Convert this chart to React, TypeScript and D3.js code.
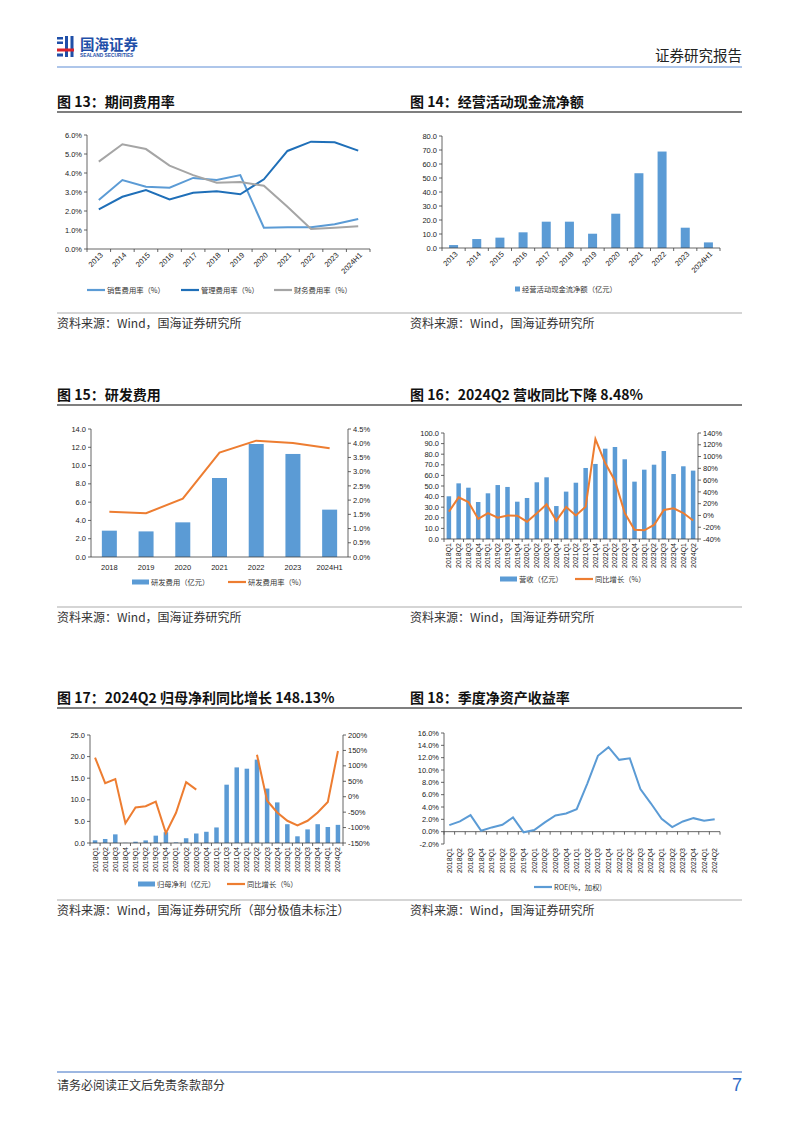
import React from 'react';
import * as d3 from 'd3';

// ---------- DATA ----------
const years13 = ['2013', '2014', '2015', '2016', '2017', '2018', '2019', '2020', '2021', '2022', '2023', '2024H1'];
const salesRate13 = [2.58, 3.63, 3.28, 3.23, 3.74, 3.63, 3.89, 1.12, 1.15, 1.15, 1.3, 1.58];
const adminRate13 = [2.09, 2.75, 3.1, 2.61, 2.96, 3.04, 2.88, 3.67, 5.16, 5.65, 5.62, 5.18];
const finRate13 = [4.6, 5.51, 5.26, 4.39, 3.89, 3.49, 3.53, 3.33, 2.22, 1.05, 1.12, 1.2];
const ticks13 = [0, 1, 2, 3, 4, 5, 6];

const cashFlow14 = [2.1, 6.4, 7.4, 11.2, 18.8, 18.8, 10.2, 24.5, 53.4, 68.9, 14.5, 4.0];
const ticks14 = [0, 10, 20, 30, 40, 50, 60, 70, 80];

const years15 = ['2018', '2019', '2020', '2021', '2022', '2023', '2024H1'];
const rdExpense15 = [2.88, 2.8, 3.79, 8.64, 12.36, 11.27, 5.18];
const rdRate15 = [1.59, 1.54, 2.05, 3.67, 4.09, 4.01, 3.82];
const ticks15L = [0, 2, 4, 6, 8, 10, 12, 14];
const ticks15R = [0, 0.5, 1, 1.5, 2, 2.5, 3, 3.5, 4, 4.5];

const quarters16 = ['2018Q1', '2018Q2', '2018Q3', '2018Q4', '2019Q1', '2019Q2', '2019Q3', '2019Q4', '2020Q1', '2020Q2', '2020Q3', '2020Q4', '2021Q1', '2021Q2', '2021Q3', '2021Q4', '2022Q1', '2022Q2', '2022Q3', '2022Q4', '2023Q1', '2023Q2', '2023Q3', '2023Q4', '2024Q1', '2024Q2'];
const revenue16 = [40.3, 52.5, 48.4, 34.9, 43.1, 50.9, 49.1, 35.2, 38.7, 53.5, 58.2, 31.1, 44.7, 53.1, 67.0, 70.8, 85.2, 86.8, 75.2, 54.1, 65.4, 70.1, 83.0, 61.3, 68.6, 64.5];
const revYoy16 = [6.4, 30.7, 22.8, -6, 4.1, -3.8, 0, -0.4, -10.6, 3.6, 18.8, -8.9, 14.3, 0, 14.9, 129.7, 89, 59, 4.1, -24.2, -25.3, -16.2, 9.2, 12.1, 4.1, -8.48];
const ticks16L = [0, 10, 20, 30, 40, 50, 60, 70, 80, 90, 100];
const ticks16R = [-40, -20, 0, 20, 40, 60, 80, 100, 120, 140];

const quarters17 = ['2018Q1', '2018Q2', '2018Q3', '2018Q4', '2019Q1', '2019Q2', '2019Q3', '2019Q4', '2020Q1', '2020Q2', '2020Q3', '2020Q4', '2021Q1', '2021Q3', '2021Q4', '2022Q1', '2022Q2', '2022Q3', '2022Q4', '2023Q1', '2023Q2', '2023Q3', '2023Q4', '2024Q1', '2024Q2'];
const profit17 = [0.62, 0.93, 2.0, 0.05, 0.3, 0.6, 1.7, 2.5, 0.15, 1.1, 2.2, 2.6, 3.6, 13.5, 17.5, 17.2, 19.3, 12.6, 9.4, 4.35, 1.55, 3.15, 4.35, 3.7, 4.2];
const profitYoy17: (number | null)[] = [127, 44, 57, -86, -35, -31, -16, -118, -52, 47, 23, null, null, null, null, null, 136, -13, -51, -78, -93, -78, -51, -17, 148.13];
const ticks17L = [0, 5, 10, 15, 20, 25];
const ticks17R = [-150, -100, -50, 0, 50, 100, 150, 200];

const roe18 = [1.06, 1.66, 2.68, 0.15, 0.69, 1.12, 2.3, -0.1, 0.26, 1.5, 2.63, 2.95, 3.64, 7.8, 12.3, 13.7, 11.65, 11.9, 6.9, 4.56, 2.08, 0.74, 1.66, 2.19, 1.76, 2.03];
const ticks18 = [-2, 0, 2, 4, 6, 8, 10, 12, 14, 16];

// ---------- STYLE ----------
const FONT = "'Liberation Sans', 'Noto Sans CJK SC', sans-serif";
const CJK = "'Noto Sans CJK SC', sans-serif";
const AX = '#404040';
const BLUE = '#5b9bd5';
const DBLUE = '#1f6fb8';
const GREY = '#a5a5a5';
const ORANGE = '#ed7d31';
const TICK_FS = 7.5;
const LEG_FS = 7.3;

function YAxis({ scale, ticks, x, side, fmt }: any) {
  const dir = side === 'left' ? -1 : 1;
  const [r0, r1] = scale.range();
  return (
    <g>
      <line x1={x} x2={x} y1={r0} y2={r1} stroke={AX} strokeWidth={0.8} />
      {ticks.map((t: number) => (
        <g key={t}>
          <line x1={x} x2={x + dir * 3} y1={scale(t)} y2={scale(t)} stroke={AX} strokeWidth={0.8} />
          <text x={x + dir * 5} y={scale(t)} dy="0.35em" fontSize={TICK_FS} fontFamily={FONT} fill="#222"
            textAnchor={side === 'left' ? 'end' : 'start'}>{fmt(t)}</text>
        </g>
      ))}
    </g>
  );
}

function XAxisLine({ band, y, ticks = true }: any) {
  const [a, b] = band.range();
  const bounds = band.domain().map((d: string) => band(d)).concat([b]);
  return (
    <g>
      <line x1={a} x2={b} y1={y} y2={y} stroke={AX} strokeWidth={0.8} />
      {ticks && bounds.map((bx: number, i: number) => (
        <line key={i} x1={bx} x2={bx} y1={y} y2={y + 3} stroke={AX} strokeWidth={0.8} />
      ))}
    </g>
  );
}

function RotLabels({ band, y, angle, fs = TICK_FS }: any) {
  return (
    <g>
      {band.domain().map((d: string) => {
        const cx = band(d) + band.bandwidth() / 2;
        const dx = angle === -45 ? 3 : 0;
        return (
          <text key={d} transform={`translate(${cx + dx},${y}) rotate(${angle})`} textAnchor="end"
            dy={angle === -90 ? '0.35em' : '0.3em'} fontSize={fs} fontFamily={FONT} fill="#222">{d}</text>
        );
      })}
    </g>
  );
}

function LegLine({ x, y, color, label, w = 18 }: any) {
  return (
    <g>
      <line x1={x} x2={x + w} y1={y} y2={y} stroke={color} strokeWidth={2.2} />
      <text x={x + w + 2} y={y} dy="0.35em" fontSize={LEG_FS} fontFamily={CJK} fill="#333">{label}</text>
    </g>
  );
}

function LegBar({ x, y, color, label, w = 17, h = 5 }: any) {
  return (
    <g>
      <rect x={x} y={y - h / 2} width={w} height={h} fill={color} />
      <text x={x + w + 2} y={y} dy="0.35em" fontSize={LEG_FS} fontFamily={CJK} fill="#333">{label}</text>
    </g>
  );
}

function Title({ x, y, text }: any) {
  return <text x={x} y={y} fontSize={14} fontWeight="bold" fontFamily={CJK} fill="#111">{text}</text>;
}

function Source({ x, y, text }: any) {
  return <text x={x} y={y} fontSize={12} fontFamily={CJK} fill="#333">{text}</text>;
}

// ---------- CHARTS ----------
function Chart13() {
  const x = d3.scaleBand().domain(years13).range([87, 370]);
  const y = d3.scaleLinear().domain([0, 6]).range([249, 135]);
  const cx = (i: number) => (x(years13[i]) as number) + x.bandwidth() / 2;
  const line = d3.line<number>().x((_, i) => cx(i)).y((d) => y(d));
  return (
    <g>
      <YAxis scale={y} ticks={ticks13} x={87} side="left" fmt={(t: number) => t.toFixed(1) + '%'} />
      <XAxisLine band={x} y={249} />
      <path d={line(salesRate13) as string} fill="none" stroke={BLUE} strokeWidth={2} />
      <path d={line(adminRate13) as string} fill="none" stroke={DBLUE} strokeWidth={2} />
      <path d={line(finRate13) as string} fill="none" stroke={GREY} strokeWidth={2} />
      <RotLabels band={x} y={254} angle={-45} />
      <LegLine x={87} y={290} color={BLUE} label="销售费用率（%）" />
      <LegLine x={181} y={290} color={DBLUE} label="管理费用率（%）" />
      <LegLine x={274} y={290} color={GREY} label="财务费用率（%）" />
    </g>
  );
}

function Chart14() {
  const x = d3.scaleBand().domain(years13).range([442, 720]);
  const y = d3.scaleLinear().domain([0, 80]).range([248, 136]);
  const bw = 9;
  return (
    <g>
      {cashFlow14.map((v, i) => {
        const c = (x(years13[i]) as number) + x.bandwidth() / 2;
        return <rect key={i} x={c - bw / 2} y={y(v)} width={bw} height={y(0) - y(v)} fill={BLUE} />;
      })}
      <YAxis scale={y} ticks={ticks14} x={442} side="left" fmt={(t: number) => t.toFixed(1)} />
      <XAxisLine band={x} y={248} />
      <RotLabels band={x} y={253} angle={-45} />
      <rect x={515} y={286.5} width={5} height={5} fill={BLUE} />
      <text x={522} y={289} dy="0.35em" fontSize={LEG_FS} fontFamily={CJK} fill="#333">经营活动现金流净额（亿元）</text>
    </g>
  );
}

function Chart15() {
  const x = d3.scaleBand().domain(years15).range([91, 348]);
  const yL = d3.scaleLinear().domain([0, 14]).range([557, 429]);
  const yR = d3.scaleLinear().domain([0, 4.5]).range([557, 429]);
  const cx = (i: number) => (x(years15[i]) as number) + x.bandwidth() / 2;
  const line = d3.line<number>().x((_, i) => cx(i)).y((d) => yR(d));
  const bw = 15;
  return (
    <g>
      {rdExpense15.map((v, i) => (
        <rect key={i} x={cx(i) - bw / 2} y={yL(v)} width={bw} height={yL(0) - yL(v)} fill={BLUE} />
      ))}
      <path d={line(rdRate15) as string} fill="none" stroke={ORANGE} strokeWidth={2} />
      <YAxis scale={yL} ticks={ticks15L} x={91} side="left" fmt={(t: number) => t.toFixed(1)} />
      <YAxis scale={yR} ticks={ticks15R} x={348} side="right" fmt={(t: number) => t.toFixed(1) + '%'} />
      <line x1={91} x2={348} y1={557} y2={557} stroke={AX} strokeWidth={0.8} />
      {years15.map((d, i) => (
        <text key={d} x={cx(i)} y={567} dy="0.35em" textAnchor="middle" fontSize={TICK_FS} fontFamily={FONT} fill="#222">{d}</text>
      ))}
      <LegBar x={132} y={582} color={BLUE} label="研发费用（亿元）" />
      <LegLine x={228} y={582} color={ORANGE} label="研发费用率（%）" />
    </g>
  );
}

function Chart16() {
  const x = d3.scaleBand().domain(quarters16).range([444, 698]);
  const yL = d3.scaleLinear().domain([0, 100]).range([539, 433]);
  const yR = d3.scaleLinear().domain([-40, 140]).range([539, 433]);
  const cx = (i: number) => (x(quarters16[i]) as number) + x.bandwidth() / 2;
  const line = d3.line<number>().x((_, i) => cx(i)).y((d) => yR(d));
  const bw = 4.5;
  return (
    <g>
      {revenue16.map((v, i) => (
        <rect key={i} x={cx(i) - bw / 2} y={yL(v)} width={bw} height={yL(0) - yL(v)} fill={BLUE} />
      ))}
      <path d={line(revYoy16) as string} fill="none" stroke={ORANGE} strokeWidth={2} />
      <YAxis scale={yL} ticks={ticks16L} x={444} side="left" fmt={(t: number) => t.toFixed(1)} />
      <YAxis scale={yR} ticks={ticks16R} x={698} side="right" fmt={(t: number) => t + '%'} />
      <XAxisLine band={x} y={539} />
      <RotLabels band={x} y={543} angle={-90} fs={7} />
      <LegBar x={500} y={579} color={BLUE} label="营收（亿元）" />
      <LegLine x={575} y={579} color={ORANGE} label="同比增长（%）" />
    </g>
  );
}

function Chart17() {
  const x = d3.scaleBand().domain(quarters17).range([90, 343]);
  const yL = d3.scaleLinear().domain([0, 25]).range([843, 735]);
  const yR = d3.scaleLinear().domain([-150, 200]).range([843, 735]);
  const cx = (i: number) => (x(quarters17[i]) as number) + x.bandwidth() / 2;
  const line = d3.line<number | null>().defined((d) => d != null).x((_, i) => cx(i)).y((d) => yR(d as number));
  const bw = 4.5;
  return (
    <g>
      {profit17.map((v, i) => (
        <rect key={i} x={cx(i) - bw / 2} y={yL(v)} width={bw} height={yL(0) - yL(v)} fill={BLUE} />
      ))}
      <path d={line(profitYoy17) as string} fill="none" stroke={ORANGE} strokeWidth={2} />
      <YAxis scale={yL} ticks={ticks17L} x={90} side="left" fmt={(t: number) => t.toFixed(1)} />
      <YAxis scale={yR} ticks={ticks17R} x={343} side="right" fmt={(t: number) => t + '%'} />
      <XAxisLine band={x} y={843} />
      <RotLabels band={x} y={847} angle={-90} fs={7} />
      <LegBar x={138} y={884} color={BLUE} label="归母净利（亿元）" />
      <LegLine x={227} y={884} color={ORANGE} label="同比增长（%）" />
    </g>
  );
}

function Chart18() {
  const x = d3.scaleBand().domain(quarters16).range([444, 720]);
  const y = d3.scaleLinear().domain([-2, 16]).range([844, 733]);
  const cx = (i: number) => (x(quarters16[i]) as number) + x.bandwidth() / 2;
  const line = d3.line<number>().x((_, i) => cx(i)).y((d) => y(d));
  return (
    <g>
      <YAxis scale={y} ticks={ticks18} x={444} side="left" fmt={(t: number) => t.toFixed(1) + '%'} />
      <XAxisLine band={x} y={y(0)} />
      <path d={line(roe18) as string} fill="none" stroke={BLUE} strokeWidth={2} />
      <RotLabels band={x} y={848} angle={-90} fs={7} />
      <LegLine x={534} y={887} color={BLUE} label="ROE(%，加权)" />
    </g>
  );
}

export default function App() {
  return (
    <svg width={802} height={1133} viewBox="0 0 802 1133"
      style={{ position: 'absolute', left: 0, top: 0, background: '#fff' }}>
      <rect x={0} y={0} width={802} height={1133} fill="#fff" />
      {/* header */}
      <g>
        <rect x={57} y={37} width={6} height={2.5} fill="#1f4fa8" />
        <rect x={57} y={41.5} width={6} height={2.5} fill="#1f4fa8" />
        <rect x={65} y={36} width={3} height={21} fill="#1f4fa8" />
        <rect x={70.5} y={36} width={3} height={21} fill="#1f4fa8" />
        <rect x={57} y={48.5} width={17} height={3} fill="#d9232d" />
        <rect x={57} y={53.5} width={6} height={3} fill="#1f4fa8" />
        <text x={80} y={50} fontSize={14.5} fontWeight="bold" fontFamily={CJK} fill="#1f4fa8">国海证券</text>
        <text x={80} y={57} fontSize={4.8} fontWeight="bold" fontFamily={FONT} fill="#1f4fa8">SEALAND SECURITIES</text>
        <text x={742} y={61} fontSize={14.5} fontFamily={CJK} fill="#222" textAnchor="end">证券研究报告</text>
        <line x1={57} x2={742} y1={67} y2={67} stroke="#aec6ea" strokeWidth={2.2} />
      </g>

      {/* row 1 */}
      <Title x={57} y={107} text="图 13：期间费用率" />
      <Title x={410} y={107} text="图 14：经营活动现金流净额" />
      <line x1={57} x2={742} y1={112} y2={112} stroke="#555" strokeWidth={1.3} />
      <Chart13 />
      <Chart14 />
      <line x1={57} x2={742} y1={313} y2={313} stroke="#888" strokeWidth={0.7} />
      <Source x={57} y={328} text="资料来源：Wind，国海证券研究所" />
      <Source x={410} y={328} text="资料来源：Wind，国海证券研究所" />

      {/* row 2 */}
      <Title x={57} y={400} text="图 15：研发费用" />
      <Title x={410} y={400} text="图 16：2024Q2 营收同比下降 8.48%" />
      <line x1={57} x2={742} y1={405} y2={405} stroke="#555" strokeWidth={1.3} />
      <Chart15 />
      <Chart16 />
      <line x1={57} x2={742} y1={607} y2={607} stroke="#888" strokeWidth={0.7} />
      <Source x={57} y={622} text="资料来源：Wind，国海证券研究所" />
      <Source x={410} y={622} text="资料来源：Wind，国海证券研究所" />

      {/* row 3 */}
      <Title x={57} y={703} text="图 17：2024Q2 归母净利同比增长 148.13%" />
      <Title x={410} y={703} text="图 18：季度净资产收益率" />
      <line x1={57} x2={742} y1={708} y2={708} stroke="#555" strokeWidth={1.3} />
      <Chart17 />
      <Chart18 />
      <line x1={57} x2={742} y1={900} y2={900} stroke="#888" strokeWidth={0.7} />
      <Source x={57} y={915} text="资料来源：Wind，国海证券研究所（部分极值未标注）" />
      <Source x={410} y={915} text="资料来源：Wind，国海证券研究所" />

      {/* footer */}
      <line x1={57} x2={742} y1={1072} y2={1072} stroke="#3b6fc4" strokeWidth={1} />
      <text x={57} y={1090} fontSize={12} fontFamily={CJK} fill="#333">请务必阅读正文后免责条款部分</text>
      <text x={742} y={1091} fontSize={18} fontFamily={FONT} fill="#2e6bc6" textAnchor="end">7</text>
    </svg>
  );
}
